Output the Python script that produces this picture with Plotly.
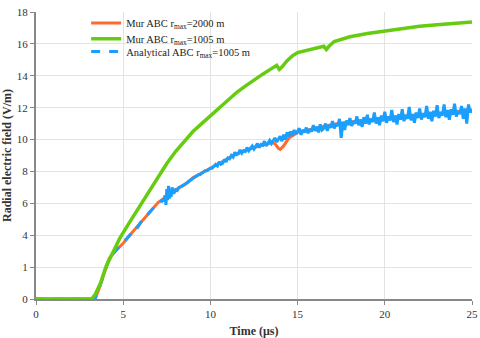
import plotly.graph_objects as go

# Mur ABC, r_max = 1005 m (green)
green_t = [0, 3.2, 3.4, 3.7, 4.0, 4.3, 4.8, 5.3, 6.0, 6.5, 7.0, 7.5, 8.0, 8.5, 9.0, 9.5,
           10.0, 10.5, 11.0, 11.5, 12.0, 12.5, 13.0, 13.5, 13.8, 13.95, 14.1, 14.4, 14.7,
           15.0, 15.5, 16.0, 16.5, 16.65, 16.8, 17.1, 17.5, 18.0, 19.0, 20.0, 21.0, 22.0,
           23.0, 24.0, 25.0]
green_v = [0, 0, 0.3, 1.0, 2.0, 2.7, 3.8, 4.7, 5.9, 6.8, 7.6, 8.5, 9.25, 9.9, 10.5, 11.0,
           11.5, 12.0, 12.45, 12.95, 13.35, 13.75, 14.1, 14.45, 14.65, 14.4, 14.55, 14.95, 15.25,
           15.45, 15.6, 15.75, 15.85, 15.65, 15.85, 16.15, 16.3, 16.45, 16.65, 16.8, 17.0, 17.1,
           17.2, 17.3, 17.38]

# Mur ABC, r_max = 2000 m (orange)
orange_t = [0, 3.38, 3.6, 3.8, 4.0, 4.2, 4.5, 5.0, 5.5, 6.0, 6.5, 7.0, 7.5, 8.0, 8.5, 9.0,
            9.5, 10.0, 10.5, 11.0, 11.5, 12.0, 12.5, 13.0, 13.5, 13.7, 13.9, 14.0, 14.2,
            14.5, 15.0, 16.0, 17.0, 18.0, 20.0, 22.0, 25.0]
orange_v = [0, 0, 0.6, 1.3, 2.0, 2.55, 2.95, 3.5, 4.15, 4.8, 5.45, 6.05, 6.45, 6.85, 7.15, 7.6,
            7.9, 8.2, 8.5, 8.85, 9.1, 9.3, 9.5, 9.65, 9.8, 9.75, 9.45, 9.38, 9.6,
            10.1, 10.45, 10.7, 10.95, 11.1, 11.35, 11.55, 11.85]

# Analytical ABC, r_max = 1005 m (blue): smooth early part, drawn dashed
blue_early_t = [0, 3.38, 3.6, 3.8, 4.0, 4.2, 4.5, 4.8, 5.0, 5.2, 5.4, 5.5, 5.6, 5.8, 6.0,
                6.2, 6.4, 6.6, 6.8, 7.0, 7.2, 7.3]
blue_early_v = [0, 0, 0.6, 1.3, 2.0, 2.55, 2.95, 3.3, 3.5, 3.75, 4.0, 4.15, 4.1, 4.45, 4.8,
                5.05, 5.3, 5.55, 5.75, 6.05, 6.15, 6.1]

# Analytical ABC, noisy late part
blue_late_t = [7.3, 7.4, 7.45, 7.5, 7.55, 7.6, 7.65, 7.7, 7.75, 7.8,
               7.9, 8.0, 8.1, 8.2, 8.3,
               8.4, 8.5, 8.6, 8.7, 8.8, 8.9, 9.0, 9.1, 9.2, 9.3, 9.4, 9.5, 9.6, 9.7, 9.8, 9.9,
               10.0, 10.1, 10.2, 10.3, 10.4, 10.5, 10.6, 10.7, 10.8, 10.9,
               11.0, 11.1, 11.2, 11.3, 11.4, 11.5, 11.6, 11.7, 11.8, 11.9,
               12.0, 12.1, 12.2, 12.3, 12.4, 12.5, 12.6, 12.7, 12.8, 12.9,
               13.0, 13.1, 13.2, 13.3, 13.4, 13.5, 13.6, 13.7, 13.8, 13.9,
               14.0, 14.1, 14.2, 14.3, 14.4, 14.5, 14.6, 14.7, 14.8, 14.9,
               15.0, 15.1, 15.2, 15.3, 15.4, 15.5, 15.6, 15.7, 15.8, 15.9,
               16.0, 16.1, 16.2, 16.3, 16.4, 16.5, 16.6, 16.7, 16.8, 16.9,
               17.0, 17.1, 17.2, 17.3, 17.4, 17.5, 17.6, 17.7, 17.8, 17.9,
               18.0, 18.1, 18.2, 18.3, 18.4, 18.5, 18.6, 18.7, 18.8, 18.9,
               19.0, 19.1, 19.2, 19.3, 19.4, 19.5, 19.6, 19.7, 19.8, 19.9,
               20.0, 20.1, 20.2, 20.3, 20.4, 20.5, 20.6, 20.7, 20.8, 20.9,
               21.0, 21.1, 21.2, 21.3, 21.4, 21.5, 21.6, 21.7, 21.8, 21.9,
               22.0, 22.1, 22.2, 22.3, 22.4, 22.5, 22.6, 22.7, 22.8, 22.9,
               23.0, 23.1, 23.2, 23.3, 23.4, 23.5, 23.6, 23.7, 23.8, 23.9,
               24.0, 24.1, 24.2, 24.3, 24.4, 24.5, 24.6, 24.7, 24.8, 24.9, 25.0]
blue_late_v = [6.1, 6.5, 5.9, 6.9, 6.2, 7.1, 6.3, 6.8, 6.4, 7.0,
               6.6, 6.85, 6.8, 7.0, 7.05,
               7.1, 7.15, 7.25, 7.3, 7.4, 7.5, 7.6, 7.65, 7.7, 7.8, 7.8, 7.9, 7.95, 8.05, 8.05, 8.15,
               8.2, 8.2, 8.3, 8.45, 8.35, 8.6, 8.45, 8.5, 8.75, 8.6,
               8.85, 8.8, 9.0, 8.9, 9.2, 9.05, 9.1, 9.35, 9.15, 9.3,
               9.25, 9.5, 9.3, 9.45, 9.6, 9.4, 9.55, 9.75, 9.5, 9.7,
               9.65, 9.9, 9.6, 9.8, 9.95, 9.75, 9.9, 10.1, 9.85, 10.0,
               10.2, 9.9, 10.3, 10.0, 10.45, 10.2, 10.5, 10.25, 10.6, 10.35,
               10.5, 10.7, 10.3, 10.6, 10.45, 10.75, 10.4, 10.65, 10.5, 10.9,
               10.55, 10.8, 10.45, 10.95, 10.6, 10.7, 11.0, 10.55, 10.9, 10.75,
               11.15, 10.7, 11.0, 10.85, 11.3, 10.1, 11.1, 10.6, 11.2, 10.9,
               11.35, 10.85, 11.15, 11.0, 11.45, 10.9, 11.25, 10.8, 11.4, 11.0,
               11.55, 10.95, 11.3, 11.1, 11.7, 11.0, 11.4, 10.9, 11.5, 11.15,
               11.75, 11.05, 11.45, 11.2, 11.85, 11.1, 11.5, 10.95, 11.6, 11.25,
               11.9, 11.15, 11.55, 11.3, 12.05, 11.2, 11.6, 11.05, 11.7, 11.35,
               11.95, 11.25, 11.65, 11.4, 12.1, 11.3, 11.75, 11.15, 11.8, 11.45,
               12.15, 11.35, 11.7, 11.5, 12.2, 11.4, 11.85, 11.25, 11.9, 11.55,
               12.25, 11.45, 11.8, 11.6, 12.1, 11.3, 11.95, 11.0, 12.2, 11.7, 11.9]

x_ticks = [0, 5, 10, 15, 20, 25]
y_ticks = [0, 2, 4, 6, 8, 10, 12, 14, 16, 18]
y_tick_text = ["0", "1", "4", "6", "8", "10", "12", "14", "16", "18"]  # as printed in the source

SERIF = "Liberation Serif, Times New Roman, serif"
BLUE = "#1a9eff"

fig = go.Figure()

fig.add_trace(go.Scatter(
    x=orange_t, y=orange_v, mode="lines",
    name="Mur ABC r<sub>max</sub>=2000 m", legend="legend",
    line=dict(color="#ff6a2e", width=3),
))
fig.add_trace(go.Scatter(
    x=blue_early_t, y=blue_early_v, mode="lines",
    name="Analytical ABC r<sub>max</sub>=1005 m", legend="legend3",
    line=dict(color=BLUE, width=3, dash="dash"),
))
fig.add_trace(go.Scatter(
    x=blue_late_t, y=blue_late_v, mode="lines", showlegend=False,
    line=dict(color=BLUE, width=3),
))
fig.add_trace(go.Scatter(
    x=green_t, y=green_v, mode="lines",
    name="Mur ABC r<sub>max</sub>=1005 m", legend="legend2",
    line=dict(color="#66cc11", width=3.5),
))

# one legend per entry so the rows can sit as tightly as in the source
legend_style = dict(
    x=0.115, xanchor="left", yanchor="middle",
    bgcolor="rgba(0,0,0,0)", font=dict(family=SERIF, size=10.5, color="#222222"),
    itemwidth=30,
)

fig.update_layout(
    width=480, height=338,
    margin=dict(l=36, r=8, t=9, b=39),
    paper_bgcolor="white", plot_bgcolor="white",
    font=dict(family=SERIF, size=11, color="#333333"),
    showlegend=True,
    legend=dict(y=0.962, **legend_style),
    legend2=dict(y=0.907, **legend_style),
    legend3=dict(y=0.862, **legend_style),
)

fig.update_xaxes(
    range=[0, 25], tickvals=x_ticks, automargin=False,
    showgrid=True, gridcolor="#e3e3e3", gridwidth=1,
    showline=True, linecolor="#888888", linewidth=2,
    ticks="outside", ticklen=4, tickcolor="#888888",
    zeroline=False,
    title=dict(text="<b>Time (μs)</b>", font=dict(family=SERIF, size=12, color="#333333")),
)
fig.update_yaxes(
    range=[0, 18], tickvals=y_ticks, ticktext=y_tick_text, automargin=False,
    showgrid=True, gridcolor="#e3e3e3", gridwidth=1,
    showline=True, linecolor="#888888", linewidth=2,
    ticks="outside", ticklen=4, tickcolor="#888888",
    zeroline=False,
    title=dict(text="<b>Radial electric field (V/m)</b>", font=dict(family=SERIF, size=12, color="#333333")),
)

# drop the browser's default 8px body margin so the 480x338 figure fills the window
fig.write_html("out.html", config={"displayModeBar": False},
               post_script="document.body.style.margin='0';")
